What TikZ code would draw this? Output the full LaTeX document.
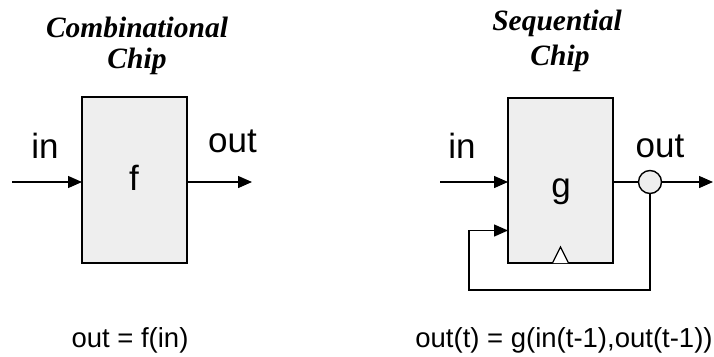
\documentclass[tikz,border=0pt]{standalone}
\usepackage{fontspec}
\setmainfont{Liberation Sans}
\newfontfamily\titlefont{Liberation Serif}
\usetikzlibrary{arrows.meta,calc}
\definecolor{boxgray}{HTML}{EEEEEE}
\begin{document}
\begin{tikzpicture}[x=1pt,y=-1pt,
  chip/.style={draw,line width=1.6pt,fill=boxgray,minimum width=105pt,minimum height=166pt,inner sep=0pt,outer sep=0pt},
  wire/.style={line width=1.4pt},
  arr/.style={wire,-{Triangle[length=14pt,width=12pt]}},
  ttl/.style={font=\titlefont\bfseries\itshape\fontsize{29.5}{34}\selectfont,anchor=base,inner sep=0pt},
  lbl/.style={font=\fontsize{35}{40}\selectfont,anchor=base,inner sep=0pt},
  eq/.style={font=\fontsize{27.5}{32}\selectfont,anchor=base,inner sep=0pt}]
\useasboundingbox (0,0) rectangle (714,356);

% titles
\node[ttl] (t1) at (137,37) {Combinational};
\node[ttl] (t2) at (137,68) {Chip};
\node[ttl] (t3) at (557,30) {Sequential};
\node[ttl] (t4) at (560,65) {Chip};

% combinational chip
\node[chip] (f) at (134.5,180) {};
\node[lbl] (fl) at (134,190) {f};
\coordinate (fin) at (12,182);
\coordinate (fout) at (252,182);
\draw[arr] (fin) -- (fin -| f.west);
\draw[arr] (f.east |- fin) -- (fout);
\node[lbl] (in1) at (45,158) {in};
\node[lbl] (out1) at (232.5,152) {out};

% sequential chip
\node[chip,minimum height=165pt] (g) at (560.5,180.5) {};
\node[lbl] (gl) at (561,197) {g};
\node[circle,draw,line width=1.4pt,fill=boxgray,minimum size=23pt,inner sep=0pt] (j) at (650,182) {};
\coordinate (gin) at (440,182);
\coordinate (gout) at (713,182);
\coordinate (fb) at (469,290);
\coordinate (fbt) at ($(g.west)+(0,50)$);
\draw[arr] (gin) -- (gin -| g.west);
\draw[wire] (g.east |- j) -- (j.west);
\draw[arr] (j.east) -- (gout);
\draw[arr] (j.south) |- (fb) |- (fbt);
\draw[line width=1.2pt,fill=white] ($(g.south)+(-8,0)$) -- ($(g.south)+(0,-16)$) -- ($(g.south)+(8,0)$);
\node[lbl] (in2) at (462,158) {in};
\node[lbl] (out2) at (660,157) {out};

% equations
\node[eq] (e1) at (130,347) {out = f(in)};
\node[eq] (e2) at (564,347) {out(t) = g(in(t-1),out(t-1))};
\end{tikzpicture}
\end{document}
